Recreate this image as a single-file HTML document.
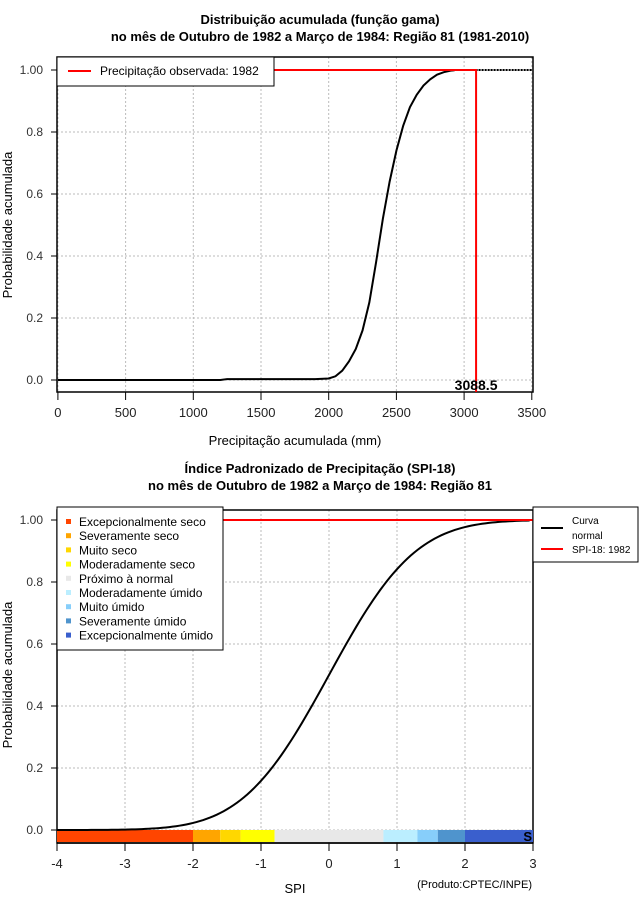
<!DOCTYPE html>
<html><head><meta charset="utf-8"><style>
body{margin:0;background:#fff;width:640px;height:900px;overflow:hidden}
svg{display:block;font-family:"Liberation Sans",sans-serif}
</style></head><body>
<svg id="s" width="640" height="900">
<text x="320" y="24" text-anchor="middle" font-size="13" font-weight="bold">Distribuição acumulada (função gama)</text>
<text x="320" y="41" text-anchor="middle" font-size="13" font-weight="bold">no mês de Outubro de 1982 a Março de 1984: Região 81 (1981-2010)</text>
<text x="320" y="473" text-anchor="middle" font-size="13" font-weight="bold">Índice Padronizado de Precipitação (SPI-18)</text>
<text x="320" y="490" text-anchor="middle" font-size="13" font-weight="bold">no mês de Outubro de 1982 a Março de 1984: Região 81</text>
<g id="topg"></g><g id="botg"></g>
</svg>
<script>
const NS="http://www.w3.org/2000/svg";
function mk(p,t,a){const e=document.createElementNS(NS,t);for(const k in a)e.setAttribute(k,a[k]);p.appendChild(e);return e;}
// ---- top chart data
const precipTicks=[0,500,1000,1500,2000,2500,3000,3500];
const probTicks=[0,0.2,0.4,0.6,0.8,1.0];
const gammaX=[0,1200,1250,1900,2000,2050,2100,2150,2200,2250,2300,2350,2400,2450,2500,2550,2600,2650,2700,2750,2800,2850,2900,2930];
const gammaP=[0,0,0.003,0.003,0.005,0.012,0.03,0.06,0.1,0.16,0.25,0.38,0.52,0.64,0.74,0.82,0.88,0.92,0.95,0.97,0.985,0.993,0.998,0.999];
const observedPrecip=[3088.5];
// ---- bottom chart data
const spiTicks=[-4,-3,-2,-1,0,1,2,3];
const spiClassNames=["Excepcionalmente seco","Severamente seco","Muito seco","Moderadamente seco","Próximo à normal","Moderadamente úmido","Muito úmido","Severamente úmido","Excepcionalmente úmido"];
const spiClassBounds=[-4,-2,-1.6,-1.3,-0.8,0.8,1.3,1.6,2,3];
const spiClassColors=["#ff4500","#ffa500","#ffd700","#ffff00","#e8e8e8","#bbeeff","#87cefa","#4f94cd","#3a5fcd"];
const observedSPI=[3];

const topG=document.getElementById('topg'),botG=document.getElementById('botg');
function frame(g,L,R,T,B,xs,ys,xt,yt,xfmt){
  yt.forEach(v=>{const y=ys(v);
    let l=mk(g,'line',{x1:L,x2:R,y1:y,y2:y,stroke:'#bbb','stroke-dasharray':'2,2'});
    
    
    mk(g,'line',{x1:L-6,x2:L,y1:y,y2:y,stroke:'#000'});
    let t=mk(g,'text',{x:L-14,y:y+4,'text-anchor':'end','font-size':12,fill:'#333'});t.textContent=v===1?'1.00':v.toFixed(1);
    
    });
  xt.forEach(v=>{const x=xs(v);
    let l=mk(g,'line',{x1:x,x2:x,y1:T,y2:B,stroke:'#bbb','stroke-dasharray':'2,2'});
    
    
    mk(g,'line',{x1:x,x2:x,y1:B,y2:B+8,stroke:'#000'});
    let t=mk(g,'text',{x:x,y:B+25,'text-anchor':'middle','font-size':13,fill:'#222'});t.textContent=xfmt(v);
    
    });
  let r=mk(g,'rect',{x:L,y:T,width:R-L,height:B-T,fill:'none',stroke:'#000','stroke-width':1.5});
  
  
}
// top chart
{const L=57,R=533,T=57,B=392;
 const xs=v=>57.9+v*0.1354, ys=v=>380-v*310;
 frame(topG,L,R,T,B,xs,ys,precipTicks,probTicks,v=>String(v));
 mk(topG,'line',{x1:xs(2930),x2:R,y1:ys(1),y2:ys(1),stroke:'#000','stroke-dasharray':'2,1','stroke-width':2});
 let p=mk(topG,'polyline',{points:gammaX.map((x,i)=>xs(x)+','+ys(gammaP[i])).join(' '),fill:'none',stroke:'#000','stroke-width':2});
 
 
 const ox=xs(observedPrecip[0]);
 let h=mk(topG,'polyline',{points:`${L},${ys(1)} ${ox},${ys(1)} ${ox},${B}`,fill:'none',stroke:'#f00','stroke-width':2});
 
 
 let t=mk(topG,'text',{x:ox,y:390,'text-anchor':'middle','font-size':14,'font-weight':'bold'});t.textContent=observedPrecip[0].toFixed(1);
 
 
 let lg=mk(topG,'g',{});
 
 
 mk(lg,'rect',{x:57,y:57,width:217,height:29,fill:'#fff',stroke:'#000'});
 mk(lg,'line',{x1:68,x2:91,y1:71,y2:71,stroke:'#f00','stroke-width':2});
 let lt=mk(lg,'text',{x:100,y:75,'font-size':12});lt.textContent='Precipitação observada: 1982';
 let xl=mk(topG,'text',{x:295,y:445,'text-anchor':'middle','font-size':13});xl.textContent='Precipitação acumulada (mm)';
 
 
 let yl=mk(topG,'text',{x:12,y:225,'text-anchor':'middle','font-size':13,transform:'rotate(-90 12 225)'});yl.textContent='Probabilidade acumulada';
 
 
}
// bottom chart
{const L=57,R=533,T=510,B=843;
 const xs=v=>57+(v+4)*68, ys=v=>830-v*310;
 frame(botG,L,R,T,B,xs,ys,spiTicks,probTicks,v=>String(v));
 spiClassColors.forEach((c,i)=>{let r=mk(botG,'rect',{x:xs(spiClassBounds[i]),y:830,width:xs(spiClassBounds[i+1])-xs(spiClassBounds[i]),height:12,fill:c});
  
  });
 mk(botG,'line',{x1:L,x2:R,y1:B,y2:B,stroke:'#000','stroke-width':1.5});
 function erf(x){const s=Math.sign(x);x=Math.abs(x);const t=1/(1+0.3275911*x);return s*(1-(((((1.061405429*t-1.453152027)*t)+1.421413741)*t-0.284496736)*t+0.254829592)*t*Math.exp(-x*x));}
 const pts=[];for(let z=-4;z<=2.95;z+=0.05)pts.push(xs(z)+','+ys(0.5*(1+erf(z/Math.SQRT2))));
 let c=mk(botG,'polyline',{points:pts.join(' '),fill:'none',stroke:'#000','stroke-width':2});
 
 
 let h=mk(botG,'line',{x1:L,x2:xs(observedSPI[0]),y1:ys(1),y2:ys(1),stroke:'#f00','stroke-width':2});
 
 
 let s=mk(botG,'text',{x:xs(observedSPI[0])-1,y:841,'text-anchor':'end','font-size':13,'font-weight':'bold'});s.textContent='S';
 let lg=mk(botG,'g',{});
 
 
 mk(lg,'rect',{x:57,y:507,width:166,height:143,fill:'#fff',stroke:'#000'});
 spiClassNames.forEach((n,i)=>{const y=522+i*14.2;
  mk(lg,'rect',{x:66,y:y-3,width:5,height:5,fill:spiClassColors[i]});
  let t=mk(lg,'text',{x:79,y:y+4,'font-size':12});t.textContent=n;
  
  });
 let lg2=mk(botG,'g',{});
 
 
 mk(lg2,'rect',{x:533,y:507,width:105,height:55,fill:'#fff',stroke:'#000'});
 mk(lg2,'line',{x1:541,x2:563,y1:528,y2:528,stroke:'#000','stroke-width':2});
 mk(lg2,'line',{x1:541,x2:563,y1:549,y2:549,stroke:'#f00','stroke-width':2});
 [['Curva',524],['normal',539],['SPI-18: 1982',553]].forEach(a=>{let t=mk(lg2,'text',{x:572,y:a[1],'font-size':10});t.textContent=a[0];});
 let xl=mk(botG,'text',{x:295,y:893,'text-anchor':'middle','font-size':13});xl.textContent='SPI';
 
 
 let cr=mk(botG,'text',{x:532,y:888,'text-anchor':'end','font-size':11});cr.textContent='(Produto:CPTEC/INPE)';
 
 
 let yl=mk(botG,'text',{x:12,y:675,'text-anchor':'middle','font-size':13,transform:'rotate(-90 12 675)'});yl.textContent='Probabilidade acumulada';
 
 
}
</script>
</body></html>
